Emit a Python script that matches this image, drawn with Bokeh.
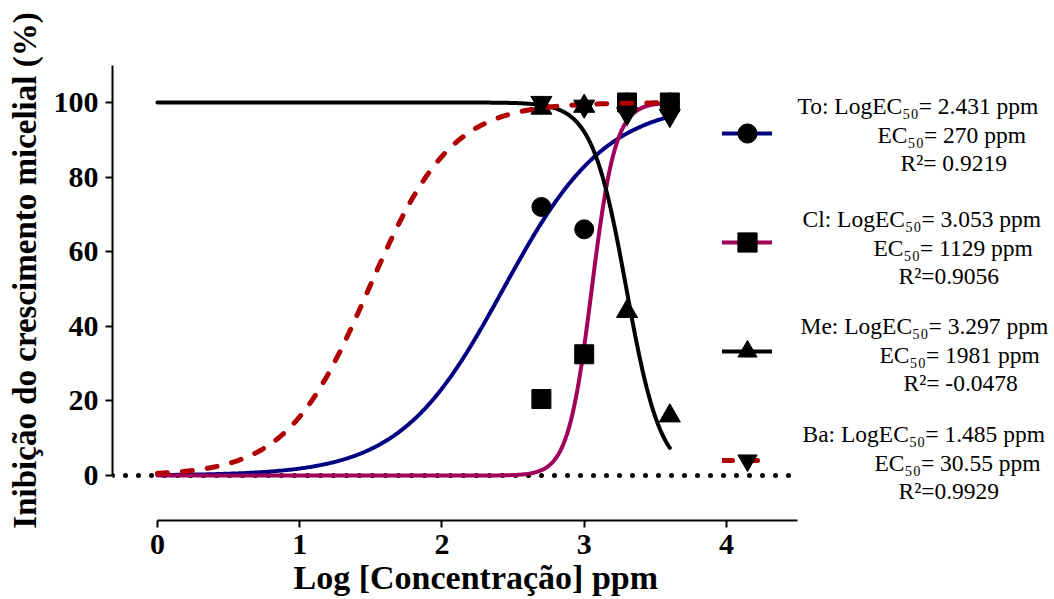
import numpy as np
from bokeh.plotting import figure
from bokeh.models import Range1d, FixedTicker, Label, Legend, LegendItem, Title
from bokeh.embed import file_html
from bokeh.resources import INLINE

# ---- data ----
log_conc = [2.699, 3.0, 3.301, 3.602]          # log10 of 500, 1000, 2000, 4000 ppm
to_vals = [72.0, 66.0, 100.0, 100.0]
cl_vals = [20.5, 32.5, 100.0, 100.0]
me_vals = [98.5, 99.0, 44.0, 16.0]
ba_vals = [100.0, 99.0, 97.0, 96.5]

series_names = ["To", "Cl", "Me", "Ba"]
log_ec50 = [2.431, 3.053, 3.297, 1.485]
ec50_ppm = ["270", "1129", "1981 ", "30.55"]
r2_text = ["= 0.9219", "=0.9056", "= -0.0478", "=0.9929"]
hill_slope = [1.2, 5.2, -3.6, 1.5]
fit_bottom = [0.0, 0.0, 0.0, 0.0]
fit_top = [100.0, 100.0, 100.0, 100.0]
fit_x_start = [0.0, 0.0, 0.0, 0.0]
fit_x_end = [3.602, 3.602, 3.602, 3.602]

x_ticks = [0, 1, 2, 3, 4]
y_ticks = [0, 20, 40, 60, 80, 100]
x_axis_extent = (0, 4.5)
y_axis_extent = (0, 110)

x_label = "Log [Concentração] ppm"
y_label = "Inibição do crescimento micelial (%)"

# ---- styles ----
colors = ["#000080", "#a0005a", "#000000", "#b00000"]
markers = ["circle", "square", "triangle", "inverted_triangle"]
marker_sizes = [19, 19, 21, 21]
dashes = ["solid", "solid", "solid", "10 15"]
FONT = "Liberation Serif"

X_START, X_END = -0.316, 6.306
p = figure(width=1054, height=599,
           x_range=Range1d(X_START, X_END), y_range=Range1d(-12.06, 121.98),
           output_backend="svg", toolbar_location=None,
           min_border_left=112, min_border_right=0,
           min_border_top=20, min_border_bottom=79)
p.grid.visible = False
p.outline_line_color = None
p.background_fill_color = "white"
p.border_fill_color = "white"

for ax, ticks in ((p.xaxis[0], x_ticks), (p.yaxis[0], y_ticks)):
    ax.ticker = FixedTicker(ticks=ticks)
    ax.minor_tick_line_color = None
    ax.major_tick_in = 0
    ax.major_tick_out = 7
    ax.axis_line_width = 2
    ax.major_tick_line_width = 2
    ax.axis_line_color = "black"
    ax.major_tick_line_color = "black"
    ax.major_label_text_font = FONT
    ax.major_label_text_font_style = "bold"
    ax.major_label_text_font_size = "30px"
    ax.major_label_text_color = "black"
    ax.axis_label_text_font = FONT
    ax.axis_label_text_font_style = "bold"
    ax.axis_label_text_color = "black"

p.xaxis.bounds = x_axis_extent
p.yaxis.bounds = y_axis_extent
p.yaxis.axis_label = y_label
p.yaxis.axis_label_text_font_size = "33px"
p.xaxis.major_label_standoff = 7
p.yaxis.major_label_standoff = 7
p.yaxis.axis_label_standoff = 8

# x axis title, placed under the axis line's extent
p.add_layout(Title(text=x_label, align="left", offset=181, standoff=0,
                   text_font=FONT, text_font_size="34px", text_font_style="bold",
                   text_color="black"), "below")

# dotted zero line from the y axis to the end of the x axis
p.line([X_START, x_axis_extent[1]], [0, 0], line_color="black", line_width=5,
       line_dash="0 13", line_cap="round", level="underlay")

point_sets = [to_vals, cl_vals, me_vals, ba_vals]
items = []
for i in range(4):
    xs = np.linspace(fit_x_start[i], fit_x_end[i], 400)
    ys = fit_bottom[i] + (fit_top[i] - fit_bottom[i]) / (1 + 10 ** ((log_ec50[i] - xs) * hill_slope[i]))
    lr = p.line(xs, ys, line_color=colors[i], line_width=4 if i < 3 else 5,
                line_dash=dashes[i], line_cap="round")
    sr = p.scatter(log_conc, point_sets[i], marker=markers[i], size=marker_sizes[i],
                   fill_color="black", line_color="black")
    items.append(LegendItem(label=" ", renderers=[lr, sr]))

legend = Legend(items=items, location=(610, 36), glyph_width=50, glyph_height=48,
                spacing=61, padding=0, margin=0, border_line_alpha=0,
                background_fill_alpha=0, label_text_font_size="1px", label_standoff=0)
p.add_layout(legend)

# legend texts (screen px relative to frame bottom-left)
FRAME_LEFT, FRAME_BOTTOM = 112, 520
block_baselines = [105, 218, 325, 433]
line1_x = [797, 802, 800, 802]
line2_x = [877, 873, 879, 874]
line3_x = [900, 898, 903, 898]
for i in range(4):
    texts = [f"{series_names[i]}: LogEC\u2085\u2080= {log_ec50[i]:.3f} ppm",
             f"EC\u2085\u2080= {ec50_ppm[i]} ppm",
             f"R\u00b2{r2_text[i]}"]
    xs_ = [line1_x[i], line2_x[i], line3_x[i]]
    offs = [0, 29, 57]
    for t, xx, dy in zip(texts, xs_, offs):
        p.add_layout(Label(x=xx - FRAME_LEFT, y=FRAME_BOTTOM - (block_baselines[i] + dy),
                           x_units="screen", y_units="screen", text=t,
                           text_font=FONT, text_font_size="23.5px", text_color="black",
                           text_baseline="alphabetic", text_align="left"))

open("out.html", "w").write(file_html(p, INLINE))
